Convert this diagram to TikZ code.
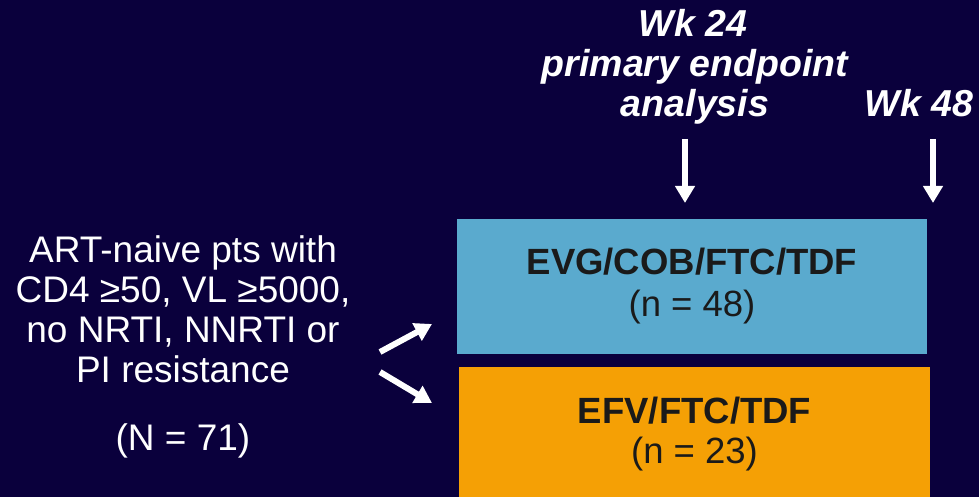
\documentclass[tikz,border=0pt]{standalone}
\usepackage{fontspec}
\setmainfont{Liberation Sans}
\usetikzlibrary{arrows.meta}
\definecolor{bgnavy}{RGB}{10,0,60}
\definecolor{evgblue}{RGB}{90,170,206}
\definecolor{efvorange}{RGB}{245,160,5}
\definecolor{boxtext}{RGB}{26,26,26}
\tikzset{
  armbox/.style={draw=none, inner sep=0pt, align=center, text=boxtext,
    font=\fontsize{36.5}{42}\selectfont},
  whitetxt/.style={text=white, inner sep=0pt, align=center, font=\fontsize{37}{40}\selectfont},
  toplbl/.style={text=white, inner sep=0pt, anchor=base, font=\fontsize{37.5}{40}\selectfont\bfseries\itshape},
  fatarrow/.style={draw=white, line width=6pt, -{Triangle[width=19pt,length=17pt]}}
}
\begin{document}
\begin{tikzpicture}[x=1pt,y=-1pt]
\fill[bgnavy] (0,0) rectangle (979,497);
\useasboundingbox (0,0) rectangle (979,497);
% boxes
\node[armbox, fill=evgblue, minimum width=470pt, minimum height=135pt] (evg) at (692,286.5)
  {\bfseries EVG/COB/FTC/TDF\\ \mdseries (n = 48)};
\node[armbox, fill=efvorange, minimum width=471pt, minimum height=134pt] (efv) at (694.5,434)
  {\bfseries EFV/FTC/TDF\\[-2pt] \mdseries (n = 23)};
% left text
\node[whitetxt, anchor=base] (l1) at (183,262) {ART-naive pts with};
\node[whitetxt, anchor=base] (l2) at (183,302) {CD4 ≥50, VL ≥5000,};
\node[whitetxt, anchor=base] (l3) at (183,342) {no NRTI, NNRTI or};
\node[whitetxt, anchor=base] (l4) at (183,382) {PI resistance};
\node[whitetxt, anchor=base] (nall) at (183,450) {(N = 71)};
% top labels
\node[toplbl] (wk24a) at (693,37) {Wk 24};
\node[toplbl] (wk24b) at (695,77) {primary endpoint};
\node[toplbl] (wk24c) at (695,117) {analysis};
\node[toplbl] (wk48) at (919,117) {Wk 48};
% arrow coordinates
\coordinate (a24s) at (685,139);
\coordinate (a24e) at (685,203);
\coordinate (a48s) at (933,139);
\coordinate (a48e) at (933,203);
\coordinate (upS) at (380,352);
\coordinate (upE) at (432,324);
\coordinate (dnS) at (380,372);
\coordinate (dnE) at (432,403);
\draw[fatarrow] (a24s) -- (a24e);
\draw[fatarrow] (a48s) -- (a48e);
\draw[fatarrow] (upS) -- (upE);
\draw[fatarrow] (dnS) -- (dnE);
\end{tikzpicture}
\end{document}
